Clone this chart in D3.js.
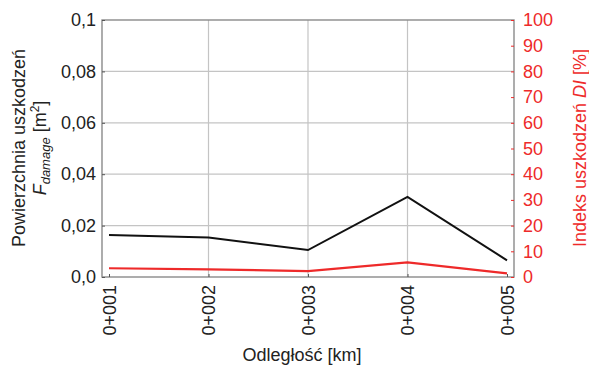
<!DOCTYPE html>
<html>
<head>
<meta charset="utf-8">
<script src="https://cdn.jsdelivr.net/npm/d3@7"></script>
<style>
  body { margin: 0; background: #fff; }
  svg text { font-family: "Liberation Sans", Arial, sans-serif; }
</style>
</head>
<body>
<svg id="chart" width="589" height="367"></svg>
<script>
// categories and series
const stations = ['0+001', '0+002', '0+003', '0+004', '0+005'];
const damageArea = [0.0163, 0.0154, 0.0105, 0.0312, 0.0065]; // m2, left axis
const damageIndex = [3.4, 3.0, 2.3, 5.7, 1.4];               // %, right axis
const leftTicks = [0, 0.02, 0.04, 0.06, 0.08, 0.1];
const rightTicks = [0, 10, 20, 30, 40, 50, 60, 70, 80, 90, 100];

const svg = d3.select('#chart');
const m = { left: 102, right: 514, top: 20, bottom: 277 };
const RED = '#ee2a2a';

const x = d3.scalePoint().domain(stations).range([109, 507]);
const yL = d3.scaleLinear().domain([0, 0.1]).range([m.bottom, m.top]);
const yR = d3.scaleLinear().domain([0, 100]).range([m.bottom, m.top]);

const fmtL = v => (v === 0.1 ? '0,1' : d3.format('.2f')(v).replace('.', ','))
  .replace(/^0,00$/, '0,0');

// grid
const grid = svg.append('g');
leftTicks.slice(1, -1).forEach(t => {
  grid.append('line').attr('x1', m.left).attr('x2', m.right)
    .attr('y1', yL(t)).attr('y2', yL(t))
    .attr('stroke', '#c4c4c4').attr('stroke-width', 1.2);
});
stations.slice(1, -1).forEach(s => {
  grid.append('line').attr('x1', x(s)).attr('x2', x(s))
    .attr('y1', m.top).attr('y2', m.bottom)
    .attr('stroke', '#c4c4c4').attr('stroke-width', 1.2);
});

// frame
svg.append('rect').attr('x', m.left).attr('y', m.top)
  .attr('width', m.right - m.left).attr('height', m.bottom - m.top)
  .attr('fill', 'none').attr('stroke', '#8a8a8a').attr('stroke-width', 1.4);

// left axis
const gL = svg.append('g').attr('transform', `translate(${m.left},0)`)
  .call(d3.axisLeft(yL).tickValues(leftTicks).tickFormat(fmtL).tickSize(3).tickPadding(3));
gL.select('.domain').remove();
gL.selectAll('line').attr('stroke', '#555').attr('x2', 3);
gL.selectAll('text').attr('font-size', 18).attr('fill', '#222');

// right axis
const gR = svg.append('g').attr('transform', `translate(${m.right},0)`)
  .call(d3.axisRight(yR).tickValues(rightTicks).tickSize(3).tickPadding(6));
gR.select('.domain').remove();
gR.selectAll('line').attr('stroke', RED).attr('x2', -3);
gR.selectAll('text').attr('font-size', 18).attr('fill', RED);

// bottom axis
const gB = svg.append('g').attr('transform', `translate(0,${m.bottom})`)
  .call(d3.axisBottom(x).tickSize(3).tickPadding(5));
gB.select('.domain').remove();
gB.selectAll('line').attr('stroke', '#555').attr('y2', -3);
gB.selectAll('text').attr('font-size', 18).attr('fill', '#222')
  .attr('transform', 'rotate(-90)')
  .attr('text-anchor', 'end').attr('dy', '0.35em')
  .attr('x', -8).attr('y', 0);

// series
svg.append('path').datum(damageArea)
  .attr('fill', 'none').attr('stroke', '#111').attr('stroke-width', 2)
  .attr('d', d3.line().x((d, i) => x(stations[i])).y(d => yL(d)));
svg.append('path').datum(damageIndex)
  .attr('fill', 'none').attr('stroke', RED).attr('stroke-width', 2.2)
  .attr('d', d3.line().x((d, i) => x(stations[i])).y(d => yR(d)));

// titles
svg.append('text').attr('transform', 'translate(25,148) rotate(-90)')
  .attr('text-anchor', 'middle').attr('font-size', 18).attr('fill', '#222')
  .text('Powierzchnia uszkodzeń');
const t2 = svg.append('text').attr('transform', 'translate(46,148) rotate(-90)')
  .attr('text-anchor', 'middle').attr('font-size', 18).attr('fill', '#222');
t2.append('tspan').attr('font-style', 'italic').text('F');
t2.append('tspan').attr('font-style', 'italic').attr('font-size', 13).attr('dy', 4).text('damage');
t2.append('tspan').attr('dy', -4).text(' [m');
t2.append('tspan').attr('font-size', 12).attr('dy', -7).text('2');
t2.append('tspan').attr('dy', 7).text(']');

const tr = svg.append('text').attr('transform', 'translate(586,148) rotate(-90)')
  .attr('text-anchor', 'middle').attr('font-size', 18).attr('fill', RED);
tr.append('tspan').text('Indeks uszkodzeń ');
tr.append('tspan').attr('font-style', 'italic').text('DI');
tr.append('tspan').text(' [%]');

svg.append('text').attr('x', 302).attr('y', 361)
  .attr('text-anchor', 'middle').attr('font-size', 18).attr('fill', '#222')
  .text('Odległość [km]');
</script>
</body>
</html>
